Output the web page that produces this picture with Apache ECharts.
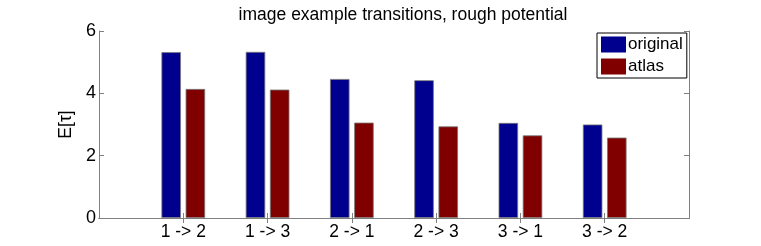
<!DOCTYPE html>
<html>
<head>
<meta charset="utf-8">
<script src="https://cdn.jsdelivr.net/npm/echarts@6/dist/echarts.min.js"></script>
<style>html,body{margin:0;padding:0;background:#fff}#c{width:761px;height:246px}</style>
</head>
<body>
<div id="c"></div>
<script>
const categories = ['1 -> 2', '1 -> 3', '2 -> 1', '2 -> 3', '3 -> 1', '3 -> 2'];
const original = [5.32, 5.33, 4.46, 4.42, 3.05, 3.00];
const atlas = [4.14, 4.12, 3.06, 2.94, 2.65, 2.58];
const yTicks = [0, 2, 4, 6];

// pad one empty slot at each end, like MATLAB's x range [0, 7]
const cats = [''].concat(categories, ['']);
const pad = arr => [null].concat(arr, [null]);

const chart = echarts.init(document.getElementById('c'));
const font = 'Liberation Sans, Arial, sans-serif';
const tickInt = (i) => i > 0 && i < cats.length - 1;
chart.setOption({
  animation: false,
  title: {
    text: 'image example transitions, rough potential',
    left: 398, textAlign: 'center', top: 1,
    textStyle: {fontFamily: font, fontSize: 17.5, fontWeight: 'normal', color: '#000'}
  },
  legend: {
    orient: 'vertical', left: 597, top: 33,
    icon: 'rect',
    itemWidth: 25, itemHeight: 16, itemGap: 5,
    padding: [3, 4, 3, 4],
    borderColor: '#000', borderWidth: 1, backgroundColor: '#fff',
    textStyle: {fontFamily: font, fontSize: 17, color: '#000', padding: [0, 0, 0, -3]},
    itemStyle: {borderWidth: 0},
    data: ['original', 'atlas']
  },
  grid: {left: 99, right: 72, top: 31, bottom: 28},
  xAxis: [{
    type: 'category', data: cats, boundaryGap: false,
    axisLine: {lineStyle: {color: '#222', width: 1}},
    axisTick: {inside: true, length: 5, interval: tickInt, lineStyle: {color: '#808080'}},
    axisLabel: {interval: 0, margin: 5, fontFamily: font, fontSize: 17.5, color: '#000'},
    splitLine: {show: false}
  }, {
    type: 'category', data: cats, boundaryGap: false, position: 'top',
    axisLine: {lineStyle: {color: '#808080', width: 1}},
    axisTick: {inside: true, length: 5, interval: tickInt, lineStyle: {color: '#808080'}},
    axisLabel: {show: false}
  }],
  yAxis: [{
    type: 'value', min: 0, max: 6, interval: 2,
    name: 'E[τ]', nameLocation: 'middle', nameGap: 24, nameRotate: 90,
    nameTextStyle: {fontFamily: font, fontSize: 17.5, color: '#000'},
    axisLine: {show: true, lineStyle: {color: '#808080', width: 1}},
    axisTick: {show: true, inside: true, length: 5, lineStyle: {color: '#808080'}},
    axisLabel: {margin: 3, fontFamily: font, fontSize: 18, color: '#000',
      formatter: v => yTicks.includes(v) ? String(v) : ''},
    splitLine: {show: false}
  }, {
    type: 'value', min: 0, max: 6, interval: 2, position: 'right',
    axisLine: {show: true, lineStyle: {color: '#808080', width: 1}},
    axisTick: {show: true, inside: true, length: 5, lineStyle: {color: '#808080'}},
    axisLabel: {show: false}, splitLine: {show: false}
  }],
  series: [{
    name: 'original', type: 'bar', data: pad(original),
    barWidth: 19.5, barGap: '24%',
    itemStyle: {color: '#00008f', borderColor: '#777', borderWidth: 0.8}
  }, {
    name: 'atlas', type: 'bar', data: pad(atlas),
    barWidth: 19.5, barGap: '24%',
    itemStyle: {color: '#800000', borderColor: '#777', borderWidth: 0.8}
  }]
});
</script>
</body>
</html>
